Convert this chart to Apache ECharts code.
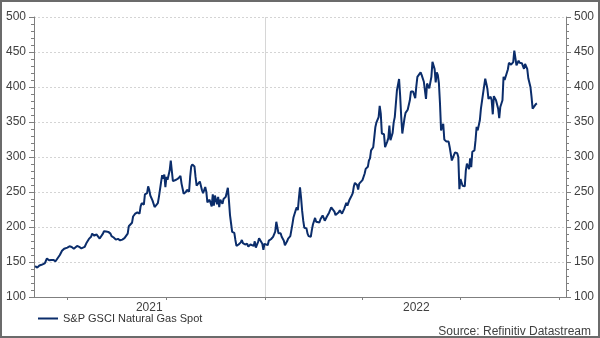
<!DOCTYPE html>
<html>
<head>
<meta charset="utf-8">
<script src="https://cdn.jsdelivr.net/npm/echarts@6/dist/echarts.min.js"></script>
<style>
  html, body { margin: 0; padding: 0; background: #fff; }
  #chart { width: 600px; height: 338px; }
</style>
</head>
<body>
<div id="chart"></div>
<script>
// Series start date; observations are stored as day offsets from it.
const seriesStart = [2021, 4, 31]; // 31 May 2021 (month is 0-based)
const axisStart = '2021-05-31';
const axisEnd = '2022-10-07';

const dayOffsets = [
  1, 3, 5, 7, 10, 12, 13, 14, 16, 18, 20, 21, 24, 26, 28, 31, 33, 35, 37, 38,
  40, 42, 44, 45, 47, 49, 51, 53, 54, 56, 57, 58, 59, 61, 62, 64, 65, 67, 69, 71,
  72, 74, 76, 78, 80, 82, 84, 85, 87, 88,
  89, 91, 92, 94, 96, 98, 99, 100, 102, 103, 105, 106, 107, 108, 110, 112, 113, 115, 116, 118,
  119, 120, 121, 122, 123, 124, 126, 127, 128, 129, 130, 132, 134, 136, 137, 139, 141, 142, 144, 145,
  146, 147, 149, 150, 151, 152, 154, 155, 156, 157, 159, 160, 161, 162, 163, 165, 166, 167, 168, 170,
  171, 172, 173, 175, 176, 177, 178, 180, 181, 182,
  183, 184, 186, 187, 188, 190, 192, 193, 194, 196, 198, 199, 201, 202, 204, 205, 206, 208, 209, 210,
  212, 213, 214, 215, 217, 218, 219, 220, 222, 223, 224, 225, 227, 228, 229, 230, 232, 233, 234, 235,
  236, 238, 239, 240, 241, 243, 244, 245, 246, 247, 248, 249, 250, 251, 253, 254, 255, 257, 258, 259,
  261, 262, 263, 265, 266, 268, 269, 270, 271, 272, 274, 275,
  276, 277, 279, 280, 281, 283, 284, 286, 287, 288, 290, 291, 292, 293, 295, 296, 297, 298, 300, 301,
  302, 303, 305, 306, 307, 308, 310, 311, 312, 313, 315, 316, 317, 318, 320, 321, 322, 323, 324, 325,
  326, 328, 329, 330, 331, 333, 334, 335, 336, 337, 339, 340, 341, 342, 344, 345, 346, 347, 349, 350,
  351, 352, 354, 355, 356, 357, 359, 360, 361, 362, 363, 364, 365, 367, 368, 369, 370, 371, 372, 373,
  374, 375, 376, 377, 378,
  380, 381, 383, 384, 385, 386, 388, 389, 390, 391, 393, 394, 395, 396, 397, 398, 400, 401, 402, 404,
  405, 406, 407, 409, 410, 411, 412, 414, 415, 416, 417, 419, 420, 421, 422, 424, 425, 426, 427, 429,
  430, 431, 432, 433, 435, 436, 437, 438, 440, 441, 442, 443, 445, 446, 447, 448, 450, 451, 452, 453,
  455, 456, 457, 458, 459, 461, 462, 463, 464, 466, 467
];

// S&P GSCI Natural Gas Spot index level
const gasSpot = [
  144, 142, 145, 146, 148, 155, 157, 152.5, 153, 153, 151, 153, 160, 166, 169, 170.5, 172.5, 171.5, 169, 171.5,
  173, 171.5, 169.5, 167.5, 171.5, 178, 183, 186, 190.5, 187.5, 185, 189.5, 187, 183.5, 186, 190.5, 194, 193.5, 193, 190.5,
  187, 185, 182, 183, 181, 182, 184, 183, 190.5, 201,
  203, 206, 215, 219, 221, 219, 229.5, 234, 232, 246.5, 248.5, 258, 253, 245, 238, 228.5, 227.5, 234, 243, 264,
  274, 269, 275, 257, 271.5, 267.5, 281, 295, 280, 265.5, 264, 267.5, 269.5, 273, 262, 247.5, 250, 253, 250.5, 271.5,
  286.5, 289.5, 286.5, 271.5, 259, 257, 265, 264, 252.5, 248.5, 257, 250.5, 235, 232.5, 239, 229.5, 246.5, 230.5, 245, 232.5,
  243, 228.5, 239, 233, 240, 239, 243, 256, 238, 217,
  205, 193, 191.5, 181.5, 173, 175, 178, 181.5, 177, 175, 176, 172, 175, 177, 173, 179.5, 170.5, 178.5, 184, 181.5,
  176, 167.5, 176, 177, 174, 180.5, 178.5, 182.5, 186, 188, 193.5, 207.5, 191, 192.5, 191, 186, 180.5, 174, 176, 179.5,
  183.5, 187, 195.5, 204.5, 214, 224, 228, 224, 241.5, 256.5, 241.5, 223, 209, 199, 198, 190.5, 187, 186, 195.5, 203.5,
  213, 207.5, 205.5, 206.5, 211, 216.5, 213, 209, 206.5, 215, 220.5, 222,
  228, 230, 222, 217, 216, 221, 224, 219, 218, 226, 234.5, 230.5, 232.5, 239, 245, 248.5, 258, 263, 260, 253.5,
  262, 264, 267, 267.5, 276, 283, 286, 295, 298, 309.5, 314, 328.5, 343, 349.5, 357, 373, 362, 333.5, 331.5, 332.5,
  314, 322, 327, 345, 324, 334.5, 349.5, 357, 376, 395, 411.5, 387.5, 357, 333.5, 355, 363, 365, 367.5, 381, 393.5,
  395, 393.5, 384, 401, 414.5, 415.5, 421, 417, 414.5, 407.5, 408.5, 383, 405, 398, 400, 414.5, 436, 434.5, 425.5, 406.5,
  421, 417, 405, 376, 338,
  347.5, 325, 322, 321, 322, 314, 295, 295, 303, 306.5, 305.5, 300, 254, 268.5, 268.5, 259, 258, 281, 290.5, 282.5,
  298, 285.5, 307.5, 309.5, 324, 343, 338, 352.5, 369, 371.5, 391, 412, 405, 397.5, 383, 386, 381, 361, 387, 381,
  379, 369, 355.5, 371.5, 381, 414.5, 410, 409, 425, 434.5, 434, 432, 435.5, 452, 441.5, 431, 437.5, 434.5, 435.5, 434,
  426, 433, 434, 426, 412.5, 400, 386, 369, 371.5, 375.5, 376.5
];

const yMin = 100, yMax = 500, yStep = 50;
const quarterTicks = ['2021-07-01', '2021-10-01', '2022-01-01', '2022-04-01', '2022-07-01', '2022-10-01'];
const yearLabelDates = ['2021-09-15', '2022-05-21'];
const yearBoundary = '2022-01-01';
const seriesName = 'S&P GSCI Natural Gas Spot';
const sourceNote = 'Source: Refinitiv Datastream';

function toTime(s) {
  const p = s.split('-').map(Number);
  return new Date(p[0], p[1] - 1, p[2]).getTime();
}
function offsetTime(d) {
  return new Date(seriesStart[0], seriesStart[1], seriesStart[2] + d).getTime();
}

const lineData = dayOffsets.map((d, i) => [offsetTime(d), gasSpot[i]]);

const FONT = '"Liberation Sans", Arial, sans-serif';
const LABEL_COLOR = '#404040';
const AXIS_COLOR = '#7f7f7f';

function yAxisDef(position, withGrid) {
  return {
    type: 'value',
    position: position,
    min: yMin,
    max: yMax,
    interval: yStep,
    axisLine: { show: true, lineStyle: { color: AXIS_COLOR, width: 1 } },
    axisTick: { show: true, inside: false, length: 5, lineStyle: { color: AXIS_COLOR } },
    minorTick: { show: true, splitNumber: 5, length: 3, lineStyle: { color: AXIS_COLOR } },
    axisLabel: { color: LABEL_COLOR, fontSize: 12, fontFamily: FONT, margin: 8 },
    splitLine: withGrid
      ? { show: true, lineStyle: { color: '#d4d4d4', type: [2, 2], width: 1 } }
      : { show: false }
  };
}

const chart = echarts.init(document.getElementById('chart'), null, { renderer: 'canvas' });
chart.setOption({
  animation: false,
  backgroundColor: '#ffffff',
  textStyle: { fontFamily: FONT },
  grid: { left: 34, right: 34, top: 17, bottom: 41 },
  xAxis: {
    // timestamps on a numeric axis so ticks and labels can sit on chosen dates
    type: 'value',
    min: toTime(axisStart),
    max: toTime(axisEnd),
    axisLine: { show: true, lineStyle: { color: AXIS_COLOR, width: 1 } },
    axisTick: {
      show: true,
      length: 3,
      customValues: quarterTicks.map(toTime),
      lineStyle: { color: AXIS_COLOR }
    },
    axisLabel: {
      customValues: yearLabelDates.map(toTime),
      formatter: v => String(new Date(v).getFullYear()),
      color: LABEL_COLOR,
      fontSize: 12,
      fontFamily: FONT,
      margin: 5
    },
    splitLine: { show: false }
  },
  yAxis: [yAxisDef('left', true), yAxisDef('right', false)],
  legend: {
    left: 33,
    top: 308,
    icon: 'rect',
    itemWidth: 20,
    itemHeight: 2,
    textStyle: { color: '#333333', fontSize: 11, fontFamily: FONT },
    data: [seriesName]
  },
  graphic: [
    {
      type: 'text',
      right: 9,
      top: 326,
      style: { text: sourceNote, fontSize: 12, fontFamily: FONT, fill: LABEL_COLOR }
    },
    {
      type: 'rect',
      shape: { x: 1, y: 1, width: 598, height: 336 },
      style: { fill: 'none', stroke: '#6b6b6b', lineWidth: 2 },
      silent: true,
      z: 100
    }
  ],
  series: [
    {
      name: seriesName,
      type: 'line',
      data: lineData,
      showSymbol: false,
      symbol: 'none',
      lineStyle: { color: '#0b2d6b', width: 2 },
      itemStyle: { color: '#0b2d6b' },
      z: 3,
      markLine: {
        silent: true,
        symbol: ['none', 'none'],
        label: { show: false },
        lineStyle: { color: '#d6d6d6', type: 'solid', width: 1 },
        data: [{ xAxis: toTime(yearBoundary) }],
        z: 1
      }
    }
  ]
});
</script>
</body>
</html>
